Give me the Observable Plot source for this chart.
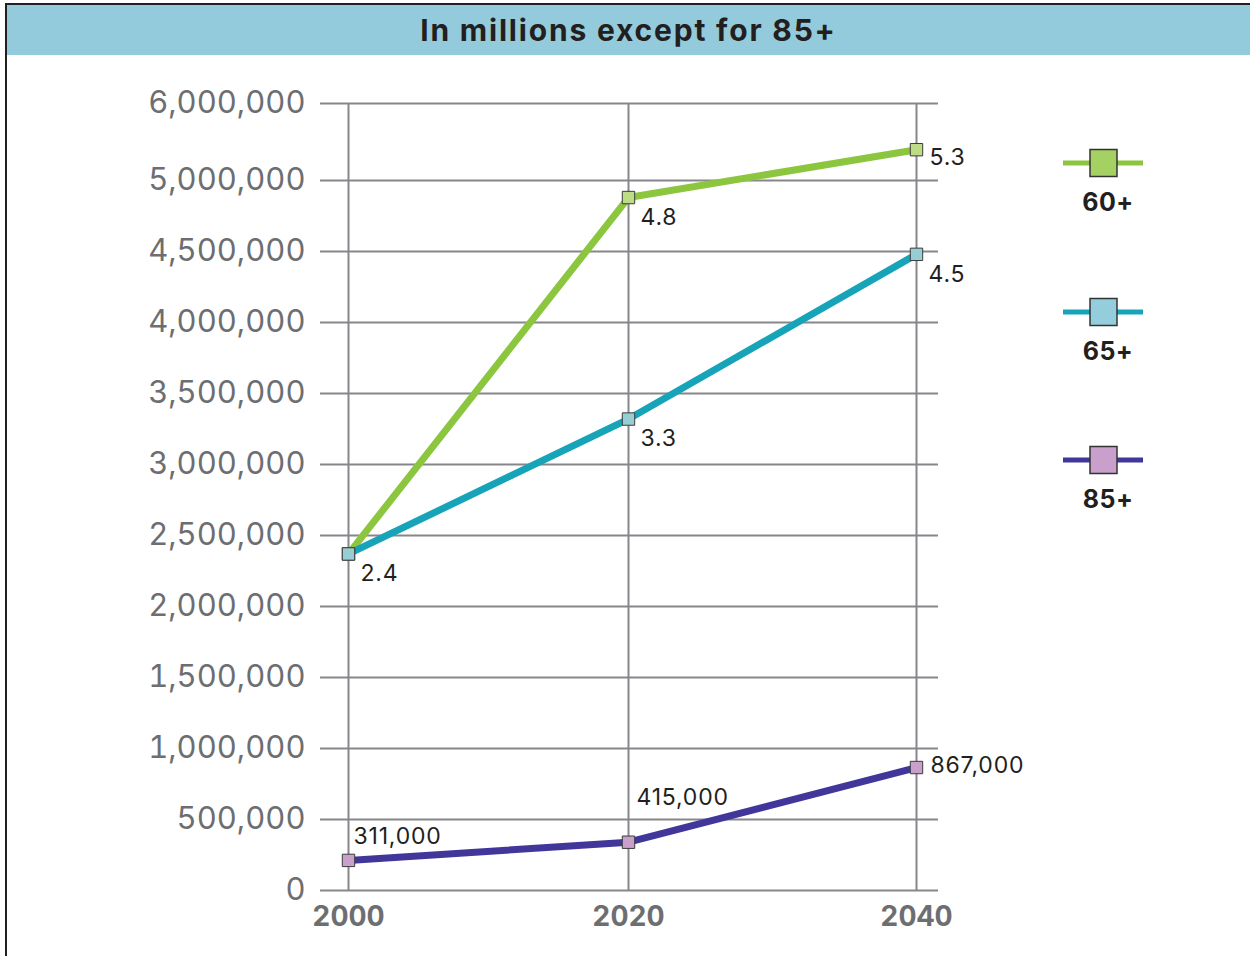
<!DOCTYPE html>
<html>
<head>
<meta charset="utf-8">
<script src="https://cdn.jsdelivr.net/npm/d3@7"></script>
<script src="https://cdn.jsdelivr.net/npm/@observablehq/plot@0.6"></script>
<style>
  html, body { margin: 0; padding: 0; background: #fff; }
  body { width: 1250px; height: 956px; position: relative; overflow: hidden; font-family: Inter, "Open Sans", sans-serif; }
  #frame { position: absolute; left: 5px; top: 3px; width: 1260px; height: 970px; border-top: 2px solid #231f20; border-left: 2px solid #231f20; box-sizing: border-box; }
  #title { position: absolute; left: 7px; top: 5px; width: 1243px; height: 50px; background: #93cbdc; color: #231f20;
           font: 700 30px Inter, sans-serif; letter-spacing: 1.8px; display: flex; align-items: center; justify-content: center; }
  #chart { position: absolute; left: 0; top: 55px; }
  #chart [aria-label="y-axis tick label"] text { font-size: 31px; fill: #6d6e71; font-weight: 400; }
  #chart [aria-label="x-axis tick label"] text { font-size: 28px; fill: #6d6e71; font-weight: 700; }
  #chart [aria-label="text"] text { letter-spacing: 0.8px; }
  .legend-item { position: absolute; width: 90px; text-align: center; }
  .legend-label { font: 700 25px Inter, sans-serif; color: #231f20; letter-spacing: 0.5px; }
</style>
</head>
<body>
<div id="frame"></div>
<div id="title">In millions except for 85+</div>
<div id="chart"></div>
<div id="legend"></div>
<script>
// ---- data ----
const years = [2000, 2020, 2040];
const seriesNames = ["60+", "65+", "85+"];
const values60 = [2370000, 4880000, 5400000];
const values65 = [2370000, 3320000, 4480000];
const values85 = [212000, 340000, 866000];
const labels60 = ["2.4", "4.8", "5.3"];
const labels65 = ["", "3.3", "4.5"];
const labels85 = ["311,000", "415,000", "867,000"];
const yTickValues = [0, 500000, 1000000, 1500000, 2000000, 2500000, 3000000, 3500000, 4000000, 4500000, 5000000, 6000000];

// ---- styles ----
const lineColors = ["#8cc63f", "#18a4b8", "#41369a"];
const markerFills = ["#bedc86", "#96ced3", "#c8a0cb"];
const legendFills = ["#a5d163", "#94cddc", "#c8a0cb"];
const gridColor = "#87878b";

const seriesValues = [values60, values65, values85];
const seriesLabels = [labels60, labels65, labels85];
const rows = [];
seriesNames.forEach((s, i) => years.forEach((yr, j) => rows.push({series: s, year: yr, value: seriesValues[i][j], label: seriesLabels[i][j]})));

const lab = (s, yr) => d => d.series === s && d.year === yr;
const textOpts = {x: "year", y: "value", text: "label", textAnchor: "start", fontSize: 23, fill: "#231f20", fontFamily: "Inter, sans-serif"};

const chart = Plot.plot({
  width: 1250,
  height: 901,
  marginLeft: 320,
  marginRight: 312,
  marginTop: 48,
  marginBottom: 66,
  style: {background: "transparent", fontFamily: "Inter, sans-serif", overflow: "visible"},
  x: {type: "linear", domain: [2000, 2020, 2040], range: [348, 628, 916]},
  y: {type: "linear", domain: [0, 5000000, 6000000], range: [835, 125, 48]},
  color: {domain: seriesNames, range: lineColors},
  marks: [
    Plot.ruleY(yTickValues, {stroke: gridColor, strokeWidth: 2}),
    Plot.ruleX(years, {y1: 0, y2: 6000000, stroke: gridColor, strokeWidth: 2}),
    Plot.axisY({ticks: yTickValues, tickSize: 0, tickPadding: 15, tickFormat: d3.format(","), label: null}),
    Plot.axisX({ticks: years, tickSize: 0, tickPadding: 16, tickFormat: d => String(d), label: null}),
    Plot.line(rows, {x: "year", y: "value", z: "series", stroke: "series", strokeWidth: 7, strokeLinejoin: "round"}),
    ...seriesNames.map((s, i) => Plot.dot(rows.filter(d => d.series === s), {x: "year", y: "value", symbol: "square", r: 7, fill: markerFills[i], stroke: "#3c3c3c", strokeWidth: 1})),
    Plot.text(rows, {...textOpts, filter: d => d.label !== "" && ((d.series === "60+" && d.year < 2040) || (d.series === "65+" && d.year > 2000)), dx: 12, dy: 20}),
    Plot.text(rows, {...textOpts, filter: lab("60+", 2040), dx: 13, dy: 8}),
    Plot.text(rows, {...textOpts, filter: lab("85+", 2040), dx: 14, dy: -2}),
    Plot.text(rows, {...textOpts, filter: lab("85+", 2000), dx: 5, dy: -24}),
    Plot.text(rows, {...textOpts, filter: lab("85+", 2020), dx: 8, dy: -45})
  ]
});
document.getElementById("chart").appendChild(chart);

// ---- legend (right side) ----
const legend = d3.select("#legend");
const legendTops = [148, 297, 445];
seriesNames.forEach((s, i) => {
  const item = legend.append("div").attr("class", "legend-item")
    .style("left", "1059px").style("top", legendTops[i] + "px");
  const svg = item.append("svg").attr("width", 90).attr("height", 30).style("display", "block");
  svg.append("line").attr("x1", 4).attr("x2", 84).attr("y1", 15).attr("y2", 15)
    .attr("stroke", lineColors[i]).attr("stroke-width", 5);
  svg.append("rect").attr("x", 31).attr("y", 1.5).attr("width", 27).attr("height", 27)
    .attr("fill", legendFills[i]).attr("stroke", "#333").attr("stroke-width", 1.5);
  item.append("div").attr("class", "legend-label").style("margin-top", "9px").style("padding-left", "8px").text(s);
});
</script>
</body>
</html>
